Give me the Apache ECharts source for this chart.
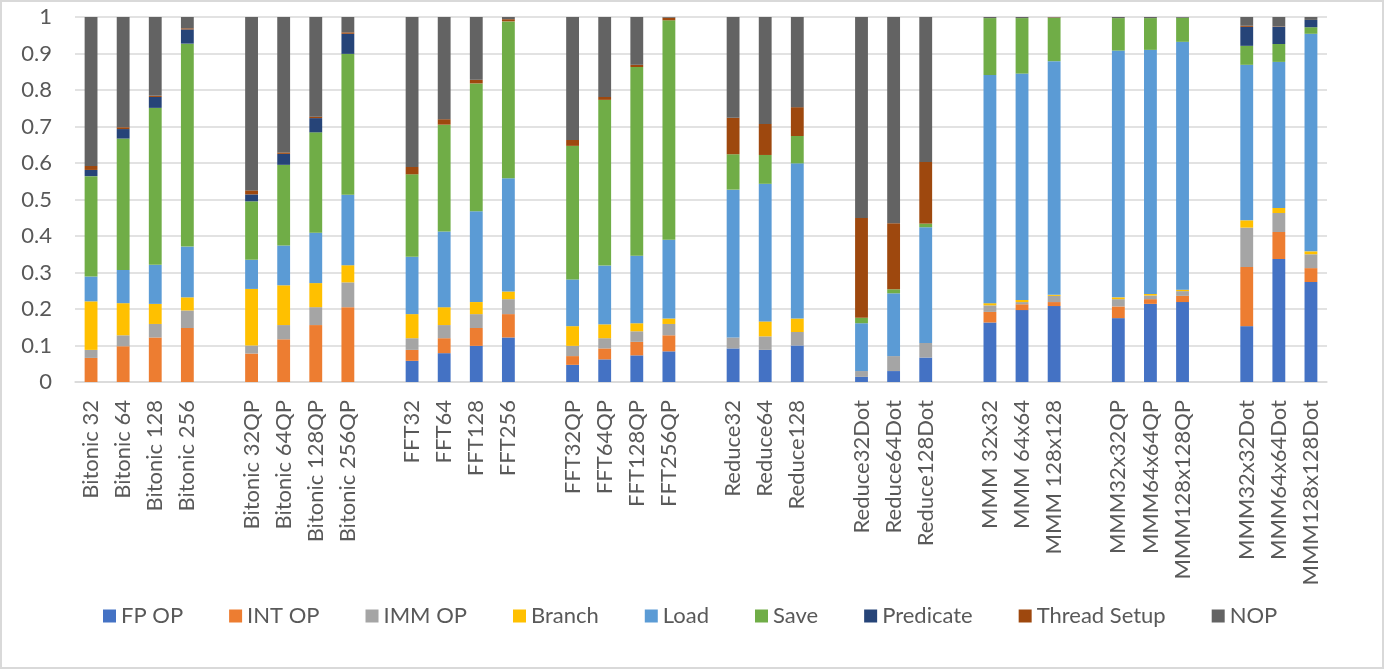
<!DOCTYPE html>
<html><head><meta charset="utf-8">
<script src="https://cdn.jsdelivr.net/npm/echarts@6/dist/echarts.min.js"></script>
<style>
html,body{margin:0;padding:0;background:#fff;}
#wrap{position:absolute;left:0;top:0;width:1380px;height:665px;border:2px solid #d9d9d9;}
#c{position:absolute;left:0;top:0;width:1384px;height:669px;}
</style></head><body>
<div id="wrap"></div>
<div id="c"></div>
<script>
const categories = ['Bitonic 32','Bitonic 64','Bitonic 128','Bitonic 256','',
 'Bitonic 32QP','Bitonic 64QP','Bitonic 128QP','Bitonic 256QP','',
 'FFT32','FFT64','FFT128','FFT256','',
 'FFT32QP','FFT64QP','FFT128QP','FFT256QP','',
 'Reduce32','Reduce64','Reduce128','',
 'Reduce32Dot','Reduce64Dot','Reduce128Dot','',
 'MMM 32x32','MMM 64x64','MMM 128x128','',
 'MMM32x32QP','MMM64x64QP','MMM128x128QP','',
 'MMM32x32Dot','MMM64x64Dot','MMM128x128Dot'];
const seriesNames = ['FP OP','INT OP','IMM OP','Branch','Load','Save','Predicate','Thread Setup','NOP'];
const colors = ['#4472C4','#ED7D31','#A5A5A5','#FFC000','#5B9BD5','#70AD47','#264478','#9E480E','#636363'];
const fpOp = [0,0,0,0,null, 0,0,0,0,null, 0.058,0.079,0.099,0.122,null, 0.047,0.062,0.073,0.084,null,
 0.092,0.088,0.100,null, 0.014,0.030,0.067,null, 0.163,0.197,0.208,null, 0.175,0.214,0.219,null, 0.153,0.337,0.274];
const intOp = [0.066,0.098,0.122,0.148,null, 0.078,0.117,0.156,0.205,null, 0.030,0.041,0.049,0.064,null, 0.024,0.030,0.037,0.044,null,
 0,0,0,null, 0,0,0,null, 0.029,0.016,0.011,null, 0.032,0.013,0.017,null, 0.162,0.074,0.038];
const immOp = [0.022,0.030,0.037,0.048,null, 0.022,0.039,0.049,0.068,null, 0.032,0.036,0.038,0.041,null, 0.028,0.028,0.029,0.031,null,
 0.030,0.037,0.037,null, 0.016,0.041,0.040,null, 0.018,0.006,0.017,null, 0.020,0.010,0.013,null, 0.108,0.052,0.038];
const branch = [0.133,0.088,0.055,0.036,null, 0.155,0.109,0.066,0.047,null, 0.066,0.049,0.033,0.021,null, 0.054,0.038,0.022,0.015,null,
 0,0.041,0.037,null, 0,0,0,null, 0.006,0.006,0.003,null, 0.005,0.004,0.004,null, 0.020,0.014,0.008];
const load = [0.068,0.091,0.107,0.139,null, 0.080,0.109,0.138,0.193,null, 0.157,0.207,0.249,0.310,null, 0.128,0.161,0.185,0.216,null,
 0.405,0.377,0.425,null, 0.131,0.172,0.317,null, 0.625,0.620,0.640,null, 0.676,0.669,0.679,null, 0.426,0.400,0.596];
const save = [0.275,0.360,0.430,0.556,null, 0.160,0.221,0.275,0.386,null, 0.226,0.293,0.350,0.430,null, 0.366,0.454,0.517,0.601,null,
 0.097,0.079,0.075,null, 0.015,0.011,0.010,null, 0.156,0.152,0.119,null, 0.089,0.087,0.066,null, 0.052,0.049,0.018];
const predicate = [0.017,0.026,0.030,0.039,null, 0.019,0.030,0.039,0.055,null, 0,0,0,0,null, 0,0,0,0,null,
 0,0,0,null, 0,0,0,null, 0,0,0,null, 0,0,0,null, 0.052,0.047,0.020];
const threadSetup = [0.011,0.005,0.003,0.003,null, 0.011,0.004,0.004,0.004,null, 0.020,0.015,0.010,0.006,null, 0.016,0.008,0.006,0.007,null,
 0.100,0.085,0.079,null, 0.273,0.181,0.169,null, 0,0,0.001,null, 0,0,0,null, 0.003,0.001,0];
const nop = [0.408,0.302,0.216,0.031,null, 0.475,0.371,0.273,0.042,null, 0.411,0.280,0.172,0.006,null, 0.337,0.219,0.131,0.002,null,
 0.276,0.293,0.247,null, 0.551,0.565,0.397,null, 0.003,0.003,0.001,null, 0.003,0.003,0.002,null, 0.024,0.026,0.008];
const yTicks = [0,0.1,0.2,0.3,0.4,0.5,0.6,0.7,0.8,0.9,1];

const allData = [fpOp,intOp,immOp,branch,load,save,predicate,threadSetup,nop];
const chart = echarts.init(document.getElementById('c'));
const font = 'Lato, "Noto Sans", sans-serif';
chart.setOption({
  animation:false,
  textStyle:{fontFamily:font},
  color:colors,
  grid:{left:75,right:57,top:17,bottom:287,containLabel:false},
  legend:{
    data:seriesNames, top:600, left:98, icon:'rect', itemWidth:13, itemHeight:13, itemGap:46,
    textStyle:{color:'#595959', fontSize:22, fontFamily:font}
  },
  xAxis:{
    type:'category', data:categories,
    axisTick:{show:false},
    axisLine:{lineStyle:{color:'#d9d9d9',width:1.5}},
    axisLabel:{interval:0, rotate:90, color:'#595959', fontSize:22, fontFamily:font, margin:18}
  },
  yAxis:{
    type:'value', min:0, max:1, interval:0.1,
    axisLine:{show:false}, axisTick:{show:false},
    splitLine:{lineStyle:{color:'#d9d9d9',width:1.5}},
    axisLabel:{color:'#595959', fontSize:22, fontFamily:font, margin:23,
      formatter:function(v){ const t = yTicks.find(x=>Math.abs(x-v)<1e-9); return String(t!==undefined?t:v); }}
  },
  series: seriesNames.map((n,i)=>({
    name:n, type:'bar', stack:'total', data:allData[i], barWidth:'40%',
    itemStyle:{color:colors[i]}
  }))
});
</script></body></html>
